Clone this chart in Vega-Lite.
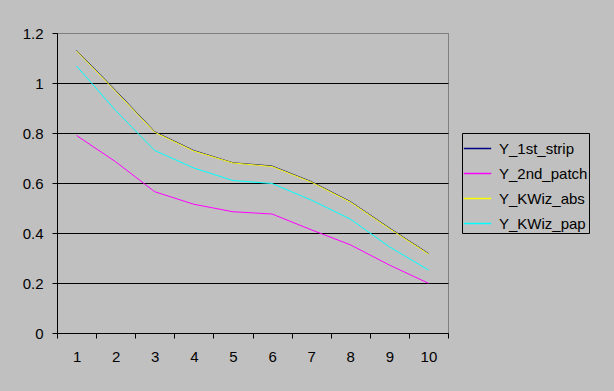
{
  "$schema": "https://vega.github.io/schema/vega-lite/v6.json",
  "width": 391,
  "height": 300,
  "autosize": {"type": "none"},
  "padding": {"left": 57, "top": 33, "right": 166, "bottom": 58},
  "background": "#C0C0C0",
  "config": {
    "font": "Liberation Sans",
    "view": {"stroke": "#808080", "strokeWidth": 1, "fill": "#C0C0C0"},
    "axis": {"labelFont": "Liberation Sans", "labelFontSize": 15, "labelColor": "black", "domainColor": "black", "tickColor": "black", "title": null}
  },
  "data": {"values": [
    {"x": 1, "s": "Y_1st_strip", "y": 1.13},
    {"x": 2, "s": "Y_1st_strip", "y": 0.97},
    {"x": 3, "s": "Y_1st_strip", "y": 0.805},
    {"x": 4, "s": "Y_1st_strip", "y": 0.73},
    {"x": 5, "s": "Y_1st_strip", "y": 0.681},
    {"x": 6, "s": "Y_1st_strip", "y": 0.668},
    {"x": 7, "s": "Y_1st_strip", "y": 0.606},
    {"x": 8, "s": "Y_1st_strip", "y": 0.526},
    {"x": 9, "s": "Y_1st_strip", "y": 0.42},
    {"x": 10, "s": "Y_1st_strip", "y": 0.318},
    {"x": 1, "s": "Y_2nd_patch", "y": 0.79},
    {"x": 2, "s": "Y_2nd_patch", "y": 0.685},
    {"x": 3, "s": "Y_2nd_patch", "y": 0.565},
    {"x": 4, "s": "Y_2nd_patch", "y": 0.515},
    {"x": 5, "s": "Y_2nd_patch", "y": 0.485},
    {"x": 6, "s": "Y_2nd_patch", "y": 0.476},
    {"x": 7, "s": "Y_2nd_patch", "y": 0.413},
    {"x": 8, "s": "Y_2nd_patch", "y": 0.353},
    {"x": 9, "s": "Y_2nd_patch", "y": 0.272},
    {"x": 10, "s": "Y_2nd_patch", "y": 0.199},
    {"x": 1, "s": "Y_KWiz_abs", "y": 1.128},
    {"x": 2, "s": "Y_KWiz_abs", "y": 0.967},
    {"x": 3, "s": "Y_KWiz_abs", "y": 0.803},
    {"x": 4, "s": "Y_KWiz_abs", "y": 0.728},
    {"x": 5, "s": "Y_KWiz_abs", "y": 0.68},
    {"x": 6, "s": "Y_KWiz_abs", "y": 0.666},
    {"x": 7, "s": "Y_KWiz_abs", "y": 0.604},
    {"x": 8, "s": "Y_KWiz_abs", "y": 0.524},
    {"x": 9, "s": "Y_KWiz_abs", "y": 0.418},
    {"x": 10, "s": "Y_KWiz_abs", "y": 0.316},
    {"x": 1, "s": "Y_KWiz_pap", "y": 1.068},
    {"x": 2, "s": "Y_KWiz_pap", "y": 0.89},
    {"x": 3, "s": "Y_KWiz_pap", "y": 0.73},
    {"x": 4, "s": "Y_KWiz_pap", "y": 0.66},
    {"x": 5, "s": "Y_KWiz_pap", "y": 0.61},
    {"x": 6, "s": "Y_KWiz_pap", "y": 0.598},
    {"x": 7, "s": "Y_KWiz_pap", "y": 0.532},
    {"x": 8, "s": "Y_KWiz_pap", "y": 0.456},
    {"x": 9, "s": "Y_KWiz_pap", "y": 0.345},
    {"x": 10, "s": "Y_KWiz_pap", "y": 0.252}
  ]},
  "mark": {"type": "line", "strokeWidth": 1},
  "encoding": {
    "x": {
      "field": "x", "type": "ordinal", "sort": "ascending",
      "scale": {"type": "band", "paddingInner": 0, "paddingOuter": 0},
      "axis": {"tickBand": "extent", "labelAngle": 0, "tickSize": 5, "labelPadding": 11, "grid": false}
    },
    "y": {
      "field": "y", "type": "quantitative",
      "scale": {"domain": [0, 1.2], "nice": false, "zero": true},
      "axis": {
        "values": [0, 0.2, 0.4, 0.6, 0.8, 1, 1.2],
        "format": "~g",
        "tickSize": 5, "labelPadding": 9,
        "grid": true,
        "gridColor": {"condition": {"test": "datum.value >= 1.19", "value": "#808080"}, "value": "black"},
        "gridOpacity": 1
      }
    },
    "color": {
      "field": "s", "type": "nominal",
      "scale": {"domain": ["Y_1st_strip", "Y_2nd_patch", "Y_KWiz_abs", "Y_KWiz_pap"], "range": ["#000080", "#FF00FF", "#FFFF00", "#00FFFF"]},
      "legend": {
        "title": null, "orient": "none", "legendX": 405, "legendY": 100,
        "symbolType": "stroke", "symbolSize": 750, "symbolStrokeWidth": 1.5,
        "labelFont": "Liberation Sans", "labelFontSize": 15, "labelColor": "black",
        "strokeColor": "black", "fillColor": "#C0C0C0", "padding": 1, "rowPadding": 2, "labelOffset": 7
      }
    }
  }
}
